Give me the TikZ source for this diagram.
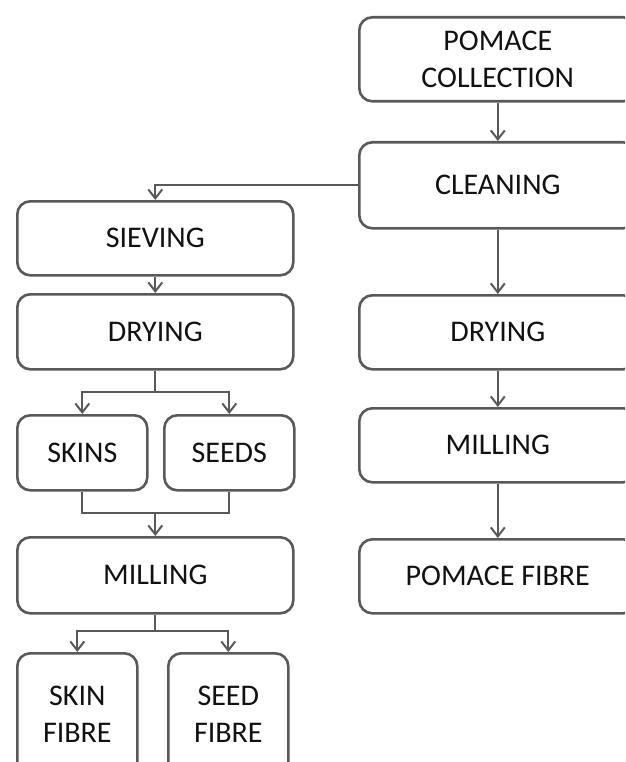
\documentclass[tikz,border=0pt]{standalone}
\usepackage{fontspec}
\setmainfont{Carlito}
\usetikzlibrary{arrows.meta}
\definecolor{lc}{HTML}{595959}
\definecolor{tc}{HTML}{111111}
\tikzset{
  box/.style={draw=lc, line width=2.6pt, rounded corners=13pt, rectangle, anchor=north west,
    inner sep=0pt, text=tc, align=center, font=\fontsize{30}{36.5}\selectfont},
  conn/.style={draw=lc, line width=2pt},
  arr/.style={conn, -{Straight Barb[length=9pt,width=14pt,line width=2pt]}}
}
\begin{document}
\begin{tikzpicture}[x=1pt,y=-1pt]
\useasboundingbox (0,0) rectangle (625,762);
\clip (0,0) rectangle (625,762);
% right column
\node[box, minimum width=277pt, minimum height=84pt] (pc) at (358,16) {POMACE\\COLLECTION};
\node[box, minimum width=277pt, minimum height=86pt] (cl) at (358,141) {CLEANING};
\node[box, minimum width=277pt, minimum height=74pt] (dr2) at (358,294) {DRYING};
\node[box, minimum width=277pt, minimum height=74pt] (mi2) at (358,407) {MILLING};
\node[box, minimum width=277pt, minimum height=74pt] (pf) at (358,538) {POMACE FIBRE};
% left column
\node[box, minimum width=276pt, minimum height=74pt] (sv) at (16,200) {SIEVING};
\node[box, minimum width=276pt, minimum height=75pt] (dr1) at (16,293) {DRYING};
\node[box, minimum width=130pt, minimum height=75pt] (sk) at (16,414) {SKINS};
\node[box, minimum width=130pt, minimum height=75pt] (sd) at (163,414) {SEEDS};
\node[box, minimum width=276pt, minimum height=76pt] (mi1) at (16,536) {MILLING};
\node[box, minimum width=120pt, minimum height=122pt] (skf) at (16,652) {SKIN\\FIBRE};
\node[box, minimum width=120pt, minimum height=122pt] (sdf) at (167,652) {SEED\\FIBRE};
% connectors
\coordinate (b1) at (dr1.south |- 0,392);
\coordinate (b2) at (mi1.north |- 0,513);
\coordinate (b3) at (mi1.south |- 0,631);
\draw[arr] (pc.south) -- (cl.north);
\draw[arr] (cl.west) -| (sv.north);
\draw[arr] (sv.south) -- (dr1.north);
\draw[conn] (dr1.south) -- (b1);
\draw[arr] (b1) -| (sk.north);
\draw[arr] (b1) -| (sd.north);
\draw[conn] (sk.south) |- (b2) -| (sd.south);
\draw[arr] (b2) -- (mi1.north);
\draw[conn] (mi1.south) -- (b3);
\draw[arr] (b3) -| (skf.north);
\draw[arr] (b3) -| (sdf.north);
\draw[arr] (cl.south) -- (dr2.north);
\draw[arr] (dr2.south) -- (mi2.north);
\draw[arr] (mi2.south) -- (pf.north);
\end{tikzpicture}
\end{document}
